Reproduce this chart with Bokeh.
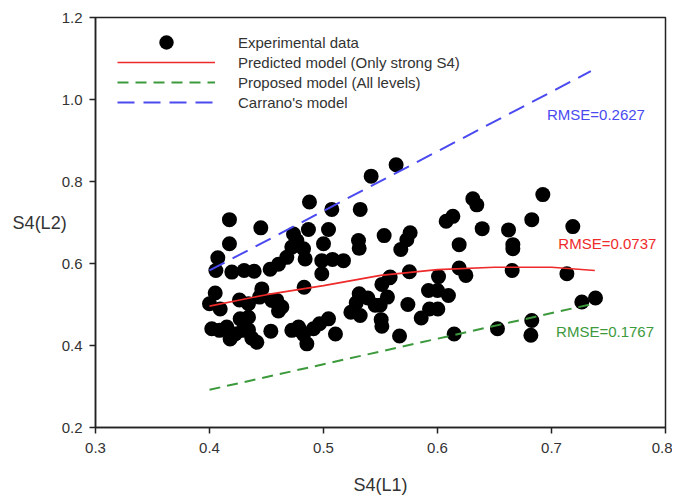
from bokeh.plotting import figure
from bokeh.models import Label, Legend, LegendItem, FixedTicker, NumeralTickFormatter, ColumnDataSource
from bokeh.embed import file_html
from bokeh.resources import INLINE

# Experimental data: S4(L1) vs S4(L2)
exp_x = [0.4175, 0.4175, 0.4073, 0.4056, 0.4196, 0.4304, 0.4392, 0.4450, 0.4532, 0.4605,
         0.4678, 0.4722, 0.4766, 0.4737, 0.4825, 0.4839, 0.4877, 0.4868, 0.5044, 0.5000,
         0.5073, 0.4985, 0.4985, 0.5079, 0.5175, 0.5322, 0.5307, 0.5313, 0.5418, 0.5637,
         0.5532, 0.5760, 0.5731, 0.5678, 0.5754, 0.5579, 0.5512, 0.6009, 0.6076, 0.6135,
         0.6190, 0.6190, 0.6249, 0.6310, 0.6345, 0.6392, 0.6623, 0.6661, 0.6661, 0.6655,
         0.6827, 0.6924, 0.7187, 0.7135, 0.7266, 0.7386, 0.6827, 0.6819, 0.6526, 0.6146,
         0.5667, 0.5512, 0.5506, 0.5857, 0.5930, 0.6003, 0.5740, 0.5921, 0.6000, 0.6096,
         0.5561, 0.5497, 0.5389, 0.5313, 0.5287, 0.5240, 0.5322, 0.5453, 0.5105, 0.5044,
         0.4965, 0.4912, 0.4854, 0.4825, 0.4781, 0.4722, 0.4830, 0.4635, 0.4591, 0.4605,
         0.4538, 0.4459, 0.4439, 0.4342, 0.4342, 0.4342, 0.4292, 0.4263, 0.4269, 0.4225,
         0.4181, 0.4415, 0.4371, 0.4094, 0.4050, 0.4000, 0.4020, 0.4088, 0.4152, 0.4547,
         0.4795, 0.5585]
exp_y = [0.707, 0.648, 0.614, 0.583, 0.579, 0.583, 0.581, 0.687, 0.586, 0.598,
         0.615, 0.640, 0.656, 0.672, 0.636, 0.611, 0.750, 0.683, 0.683, 0.648,
         0.732, 0.607, 0.575, 0.610, 0.607, 0.732, 0.656, 0.637, 0.813, 0.841,
         0.668, 0.675, 0.658, 0.634, 0.580, 0.565, 0.549, 0.568, 0.703, 0.715,
         0.646, 0.589, 0.571, 0.758, 0.743, 0.685, 0.682, 0.646, 0.636, 0.583,
         0.707, 0.768, 0.690, 0.575, 0.506, 0.516, 0.461, 0.425, 0.441, 0.428,
         0.423, 0.447, 0.463, 0.467, 0.489, 0.489, 0.500, 0.534, 0.534, 0.522,
         0.518, 0.498, 0.516, 0.526, 0.504, 0.481, 0.473, 0.498, 0.428, 0.465,
         0.453, 0.441, 0.404, 0.427, 0.445, 0.437, 0.542, 0.494, 0.510, 0.484,
         0.435, 0.538, 0.518, 0.502, 0.469, 0.438, 0.437, 0.511, 0.465, 0.428,
         0.416, 0.408, 0.418, 0.489, 0.528, 0.502, 0.441, 0.437, 0.445, 0.510,
         0.437, 0.567]

# Predicted model (only strong S4)
pred_x = [0.40, 0.45, 0.50, 0.55, 0.60, 0.65, 0.70, 0.738]
pred_y = [0.496, 0.524, 0.546, 0.571, 0.585, 0.591, 0.591, 0.583]

# Proposed model (all levels)
prop_x = [0.40, 0.737]
prop_y = [0.292, 0.502]

# Carrano's model
carr_x = [0.40, 0.7345]
carr_y = [0.583, 1.069]

x_ticks = [0.3, 0.4, 0.5, 0.6, 0.7, 0.8]
y_ticks = [0.2, 0.4, 0.6, 0.8, 1.0, 1.2]

rmse_text = ["RMSE=0.2627", "RMSE=0.0737", "RMSE=0.1767"]
rmse_x = [0.696, 0.706, 0.704]
rmse_y = [0.963, 0.648, 0.434]

FONT = "Liberation Sans"
TXT = "#333333"
RED = "#ee2a2a"
GREEN = "#3c9a3c"
BLUE = "#4a4af0"

p = figure(width=672, height=499, x_range=(0.3, 0.8), y_range=(0.2, 1.2),
           output_backend="svg", toolbar_location=None,
           min_border_left=95, min_border_right=7, min_border_top=17, min_border_bottom=72)
p.xgrid.visible = False
p.ygrid.visible = False
p.outline_line_color = "#222222"
p.outline_line_width = 1.5
p.outline_line_alpha = 1.0

for ax, ticks in ((p.xaxis[0], x_ticks), (p.yaxis[0], y_ticks)):
    ax.ticker = FixedTicker(ticks=ticks)
    ax.formatter = NumeralTickFormatter(format="0.0")
    ax.major_tick_in = 0
    ax.major_tick_out = 6
    ax.minor_tick_line_color = None
    ax.axis_line_color = "#222222"
    ax.axis_line_width = 1.5
    ax.major_tick_line_color = "#222222"
    ax.major_tick_line_width = 1.5
    ax.major_label_text_font = FONT
    ax.major_label_text_font_size = "15px"
    ax.major_label_text_color = TXT
    ax.axis_label_text_font = FONT
    ax.axis_label_text_font_size = "18px"
    ax.axis_label_text_font_style = "normal"
    ax.axis_label_text_color = TXT

p.xaxis.major_label_standoff = 9
p.yaxis.major_label_standoff = 7
p.xaxis.axis_label = "S4(L1)"
p.xaxis.axis_label_standoff = 19
p.yaxis.axis_label = "S4(L2)"
p.yaxis.axis_label_orientation = "horizontal"
p.yaxis.axis_label_standoff = -8

src = ColumnDataSource(dict(x=exp_x, y=exp_y))
r_exp = p.scatter("x", "y", source=src, size=15, fill_color="black", line_color=None)
r_pred = p.line(pred_x, pred_y, line_color=RED, line_width=1.6)
r_prop = p.line(prop_x, prop_y, line_color=GREEN, line_width=2, line_dash="11 7")
r_carr = p.line(carr_x, carr_y, line_color=BLUE, line_width=2, line_dash="17 9")


def style_legend(lg, gh):
    lg.border_line_color = None
    lg.background_fill_alpha = 0
    lg.padding = 0
    lg.margin = 0
    lg.spacing = 0
    lg.glyph_width = 98
    lg.glyph_height = gh
    lg.label_height = gh
    lg.label_standoff = 23
    lg.label_text_font = FONT
    lg.label_text_font_size = "15px"
    lg.label_text_color = TXT


legend1 = Legend(items=[LegendItem(label="Experimental data", renderers=[r_exp])],
                 location=(22, 367))
style_legend(legend1, 36)
legend2 = Legend(items=[
    LegendItem(label="Predicted model (Only strong S4)", renderers=[r_pred]),
    LegendItem(label="Proposed model (All levels)", renderers=[r_prop]),
    LegendItem(label="Carrano's model", renderers=[r_carr]),
], location=(22, 315))
style_legend(legend2, 20)
p.add_layout(legend1, "center")
p.add_layout(legend2, "center")

for t, xx, yy, c in zip(rmse_text, rmse_x, rmse_y, [BLUE, RED, GREEN]):
    p.add_layout(Label(x=xx, y=yy, text=t, text_align="left", text_baseline="middle",
                       text_font=FONT, text_font_size="15px", text_color=c))

open("out.html", "w").write(file_html(p, INLINE))
